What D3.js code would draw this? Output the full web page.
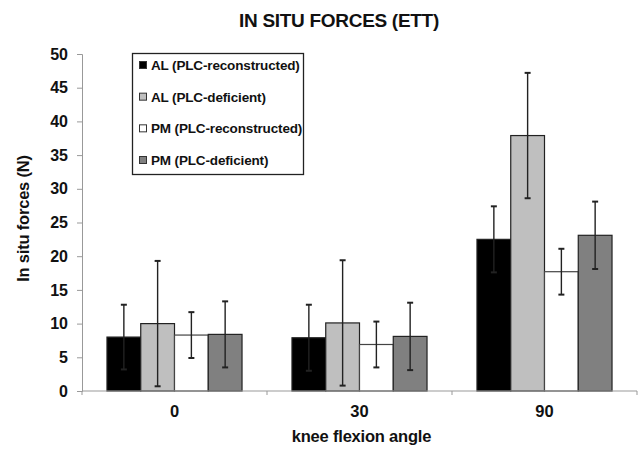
<!DOCTYPE html>
<html><head><meta charset="utf-8">
<script src="https://cdn.jsdelivr.net/npm/d3@7"></script>
<style>
html,body{margin:0;padding:0;background:#fff;}
text{font-family:"Liberation Sans",Arial,sans-serif;font-weight:bold;fill:#111;}
</style></head>
<body><svg id="c" width="640" height="450"></svg>
<script>
const categories = ["0", "30", "90"];
const seriesNames = ["AL (PLC-reconstructed)", "AL (PLC-deficient)", "PM (PLC-reconstructed)", "PM (PLC-deficient)"];
const seriesColors = ["#000000", "#bfbfbf", "#ffffff", "#808080"];
const alRecon = [8.0, 7.9, 22.5];
const alDef = [10.0, 10.1, 37.9];
const pmRecon = [8.3, 6.9, 17.7];
const pmDef = [8.4, 8.1, 23.1];
const alReconSD = [4.8, 4.9, 4.9];
const alDefSD = [9.3, 9.3, 9.3];
const pmReconSD = [3.4, 3.4, 3.4];
const pmDefSD = [4.9, 5.0, 5.0];
const yTicks = [0, 5, 10, 15, 20, 25, 30, 35, 40, 45, 50];

const seriesVals = [alRecon, alDef, pmRecon, pmDef];
const seriesSD = [alReconSD, alDefSD, pmReconSD, pmDefSD];

const svg = d3.select("#c");
const m = {left: 82, right: 3, top: 54, bottom: 59};
const W = 640, H = 450;

const x = d3.scaleBand().domain(categories).range([m.left, W - m.right]).padding(0);
const bw = x.bandwidth();
const gap = bw * 0.27;
const xs = d3.scaleBand().domain(d3.range(seriesNames.length)).range([gap / 2, bw - gap / 2]).padding(0);
const y = d3.scaleLinear().domain([0, 50]).range([H - m.bottom, m.top]);

// title
svg.append("text").attr("x", 339).attr("y", 27).attr("text-anchor", "middle")
  .style("font-size", "19px").style("letter-spacing", "-0.3px").text("IN SITU FORCES (ETT)");

// y axis
const ya = svg.append("g").attr("transform", `translate(${m.left},0)`)
  .call(d3.axisLeft(y).tickValues(yTicks).tickSize(5).tickPadding(9));
ya.select(".domain").attr("stroke", "#999");
ya.selectAll(".tick line").attr("stroke", "#999");
ya.selectAll(".tick text").style("font-size", "16px").style("font-family", "Liberation Sans, Arial").style("font-weight", "bold").attr("fill", "#111");

svg.append("text").attr("transform", `translate(29,${(m.top + H - m.bottom) / 2 - 4}) rotate(-90)`)
  .attr("text-anchor", "middle").style("font-size", "16.5px").style("letter-spacing", "-0.2px").text("In situ forces (N)");

// bars
const groups = svg.append("g").selectAll("g").data(categories).join("g")
  .attr("transform", d => `translate(${x(d)},0)`);

seriesNames.forEach((s, si) => {
  groups.append("rect")
    .attr("x", (d, ci) => xs(si))
    .attr("y", (d, ci) => y(seriesVals[si][ci]))
    .attr("width", xs.bandwidth())
    .attr("height", (d, ci) => y(0) - y(seriesVals[si][ci]))
    .attr("fill", seriesColors[si])
    .attr("stroke", si === 2 ? "#444" : "#222")
    .attr("stroke-width", 1.2);
});

// x axis
const xa = svg.append("g").attr("transform", `translate(0,${y(0)})`);
xa.append("line").attr("x1", m.left).attr("x2", W - m.right).attr("y1", 0).attr("y2", 0).attr("stroke", "#999").attr("stroke-width", 1.2);
const bounds = categories.map(c => x(c)).concat([x(categories[categories.length - 1]) + bw]);
xa.selectAll("line.tk").data(bounds).join("line").attr("class", "tk")
  .attr("x1", d => d).attr("x2", d => d).attr("y1", 0).attr("y2", 4).attr("stroke", "#999");
xa.selectAll("text.cl").data(categories).join("text").attr("class", "cl")
  .attr("x", d => x(d) + bw / 2).attr("y", 26).attr("text-anchor", "middle")
  .style("font-size", "16.5px").text(d => d);
svg.append("text").attr("x", x(categories[1]) + bw / 2 + 2).attr("y", 442).attr("text-anchor", "middle")
  .style("font-size", "16.5px").style("letter-spacing", "-0.2px").text("knee flexion angle");

// error bars
seriesNames.forEach((s, si) => {
  const eg = groups.append("g");
  eg.append("line")
    .attr("x1", (d, ci) => xs(si) + xs.bandwidth() / 2)
    .attr("x2", (d, ci) => xs(si) + xs.bandwidth() / 2)
    .attr("y1", (d, ci) => y(seriesVals[si][ci] - seriesSD[si][ci]))
    .attr("y2", (d, ci) => y(seriesVals[si][ci] + seriesSD[si][ci]))
    .attr("stroke", "#222").attr("stroke-width", 1.4);
  [-1, 1].forEach(sign => {
    eg.append("line")
      .attr("x1", (d, ci) => xs(si) + xs.bandwidth() / 2 - 3)
      .attr("x2", (d, ci) => xs(si) + xs.bandwidth() / 2 + 3)
      .attr("y1", (d, ci) => y(seriesVals[si][ci] + sign * seriesSD[si][ci]))
      .attr("y2", (d, ci) => y(seriesVals[si][ci] + sign * seriesSD[si][ci]))
      .attr("stroke", "#222").attr("stroke-width", 2);
  });
});

// legend
const lg = svg.append("g");
lg.append("rect").attr("x", 132.5).attr("y", 53.5).attr("width", 171).attr("height", 121)
  .attr("fill", "#fff").attr("stroke", "#222").attr("stroke-width", 1.3);
const ly = d3.scalePoint().domain(d3.range(seriesNames.length)).range([65, 160]);
seriesNames.forEach((s, si) => {
  lg.append("rect").attr("x", 139.5).attr("y", ly(si) - 3.5).attr("width", 7).attr("height", 7)
    .attr("fill", seriesColors[si]).attr("stroke", "#333").attr("stroke-width", 1);
  lg.append("text").attr("x", 151).attr("y", ly(si) + 5)
    .style("font-size", "13.5px").style("letter-spacing", "-0.15px").text(s);
});
</script></body></html>
